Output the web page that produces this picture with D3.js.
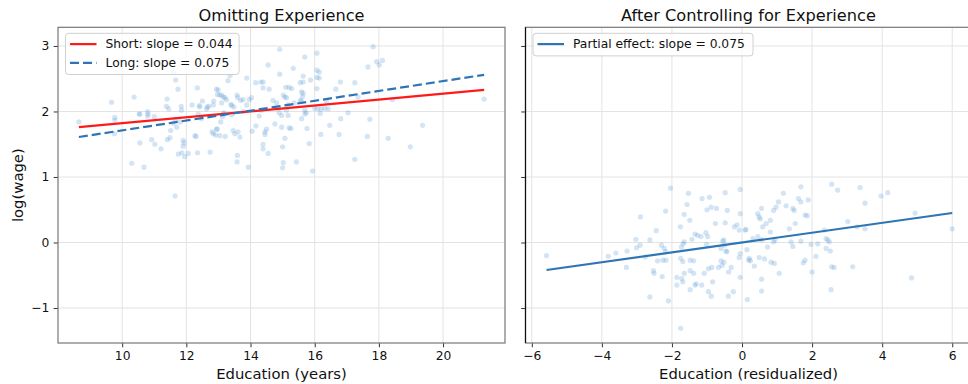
<!DOCTYPE html>
<html>
<head>
<meta charset="utf-8">
<script src="https://cdn.jsdelivr.net/npm/d3@7"></script>
<style>
  body { margin: 0; background: #fff; }
  svg text { font-family: "DejaVu Sans", sans-serif; fill: #111; }
</style>
</head>
<body>
<div id="chart"></div>
<script>
// left panel: raw education vs log wage
const eduYears = [8.65,9.67,10.37,9.77,9.77,9.76,10.55,10.30,10.68,10.79,10.79,10.55,11.00,10.92,11.02,11.21,11.40,11.38,11.45,11.59,11.67,11.74,11.84,11.85,11.66,11.80,11.59,11.70,11.51,11.49,11.41,11.90,11.93,11.90,11.75,11.86,11.95,11.65,12.30,12.06,12.34,12.18,12.42,12.50,12.37,12.47,12.35,12.74,12.65,12.85,12.94,12.99,13.04,12.84,12.91,12.94,13.07,13.13,13.17,13.21,13.30,13.36,13.15,13.25,13.39,13.58,13.60,13.48,13.69,13.77,13.88,13.96,14.03,13.46,13.51,13.61,13.67,13.59,13.58,13.93,13.77,13.88,14.05,14.17,14.16,14.32,14.39,14.39,14.55,14.58,14.70,14.27,14.34,14.45,14.45,14.50,14.39,14.39,14.55,14.91,14.91,15.02,15.07,15.12,15.10,15.33,15.20,15.28,14.89,14.97,15.12,15.17,14.76,14.97,15.20,15.07,15.00,15.02,15.00,15.43,15.69,15.64,15.55,15.64,15.59,15.64,15.55,15.62,15.87,15.59,15.74,15.76,15.83,15.93,16.07,16.07,16.14,16.07,16.14,16.07,16.00,16.10,16.20,16.17,16.31,16.42,16.37,16.47,16.19,16.66,16.80,16.81,16.76,17.04,17.25,17.25,17.35,17.66,17.72,17.64,17.82,17.93,18.01,18.11,18.42,18.29,18.98,19.36,21.28,12.27,12.40,12.63,10.53,10.81,12.97,13.10,13.20,12.70,12.84,13.10,13.41,13.15,13.41,12.80,12.96,13.04,14.81,14.88,15.17,15.36,15.59,15.69,15.69,15.26];
const logWage = [1.84,2.14,2.22,1.91,1.87,1.66,1.52,1.21,1.15,2.00,1.93,1.96,1.92,1.57,1.50,1.43,2.19,2.08,2.04,2.60,2.48,2.34,2.08,2.02,1.88,1.84,1.82,1.76,1.71,1.60,1.57,1.56,1.52,1.47,1.35,1.37,1.31,0.71,1.62,1.36,2.36,2.10,2.07,2.16,1.96,1.89,1.37,1.38,2.07,2.16,2.34,2.33,2.25,1.66,1.64,1.73,1.84,1.92,1.98,1.62,2.47,2.55,2.22,2.18,2.11,2.25,2.21,2.07,2.17,2.18,2.51,2.18,2.21,1.71,1.66,1.69,1.61,1.33,1.23,1.15,2.00,2.10,1.70,1.78,2.44,2.45,2.45,2.36,2.71,2.34,2.17,1.93,2.02,1.69,1.65,1.73,1.50,1.43,1.36,2.95,2.57,2.25,2.22,2.21,2.37,2.66,2.37,2.35,1.98,1.94,2.02,1.94,1.81,1.76,1.75,1.59,1.46,1.22,1.14,1.23,2.83,2.54,2.44,2.45,2.30,2.28,2.17,2.23,2.48,1.89,1.98,1.74,1.51,1.09,2.89,2.63,2.60,2.52,2.51,2.35,2.05,2.04,2.04,1.97,2.05,2.04,2.15,1.79,1.65,2.34,2.45,1.89,1.65,1.98,2.44,1.27,2.22,2.68,1.88,1.62,2.99,2.76,2.71,2.78,2.18,1.59,1.46,1.79,2.19,1.63,2.09,2.04,1.96,1.96,2.26,2.25,2.21,2.08,2.10,2.13,2.09,1.96,1.95,1.69,1.73,1.63,2.13,2.05,2.10,2.13,2.16,2.02,1.96,1.74];

// right panel: residualized education vs residualized log wage
const eduResid = [-5.58,-3.82,-3.60,-3.28,-3.30,-3.03,-2.91,-3.01,-2.90,-2.63,-2.76,-2.45,-2.18,-2.04,-2.30,-2.22,-2.18,-2.41,-2.26,-2.17,-2.53,-2.51,-2.28,-2.63,-2.10,-1.75,-1.86,-1.86,-1.72,-1.69,-1.65,-1.69,-1.75,-1.73,-1.65,-1.68,-1.76,-1.65,-1.57,-1.53,-1.48,-1.38,-1.48,-1.38,-1.31,-1.34,-1.48,-1.15,-1.49,-1.34,-1.27,-1.43,-1.17,-1.14,-0.93,-1.00,-0.88,-1.03,-0.98,-1.01,-0.96,-0.86,-1.08,-0.84,-0.96,-0.88,-0.76,-0.73,-0.60,-0.52,-0.67,-0.57,-0.46,-0.43,-0.60,-0.50,-0.52,-0.55,-0.48,-0.42,-0.48,-0.38,-0.31,-0.39,-0.25,-0.22,-0.14,-0.05,-0.05,-0.08,-0.05,-0.08,-0.05,0.09,0.11,0.14,0.21,0.19,0.24,0.35,0.15,0.31,0.45,0.49,0.52,0.56,0.59,0.69,0.49,0.64,0.56,0.56,0.45,0.56,0.73,0.81,0.81,0.90,0.94,0.83,0.92,1.06,0.97,1.04,0.90,1.18,1.26,1.40,1.45,1.35,1.45,1.49,1.52,1.61,1.68,1.68,1.80,1.89,1.86,1.68,1.75,1.80,2.00,1.97,2.11,2.16,2.35,2.40,2.45,2.49,2.40,2.52,2.56,2.63,2.54,2.56,2.73,3.16,3.02,3.28,3.37,3.51,3.51,3.97,4.16,4.94,4.84,6.00];
const wageResid = [-0.20,-0.21,-0.16,-0.13,-0.38,0.05,-0.04,-0.08,0.39,0.04,-0.22,0.18,0.48,0.83,-0.04,-0.09,-0.14,-0.28,-0.27,-0.27,-0.43,-0.47,-0.52,-0.83,-0.89,-1.31,-0.53,-0.65,-0.55,-0.60,-0.47,-0.29,-0.24,-0.07,0.01,-0.02,0.24,0.43,0.58,0.75,-0.27,-0.28,-0.43,-0.47,-0.63,-0.65,-0.72,-0.65,0.34,0.13,0.11,0.05,0.09,0.67,0.69,0.50,0.54,0.15,0.09,-0.03,-0.40,-0.38,-0.47,-0.60,-0.75,-0.82,0.29,0.52,-0.28,-0.30,-0.38,-0.35,-0.13,-0.14,-0.09,-0.04,0.04,0.02,0.30,0.49,0.76,-0.45,-0.38,-0.82,-0.75,0.24,0.27,0.44,0.81,0.19,-0.17,-0.23,-0.53,0.19,0.20,-0.11,-0.24,-0.27,-0.28,-0.36,-0.87,0.06,0.44,0.39,0.36,0.52,0.24,0.29,-0.23,-0.25,-0.56,-0.74,0.09,0.04,-0.07,0.34,0.16,0.01,0.04,-0.30,-0.32,-0.47,0.54,0.62,0.49,0.75,0.56,0.01,-0.06,0.21,0.52,0.49,0.29,0.67,0.62,0.85,0.42,0.65,0.41,0.02,-0.31,-0.27,-0.45,-0.03,-0.21,-0.02,0.19,0.06,0.04,0.01,-0.09,-0.13,-0.37,-0.38,-0.72,0.89,0.80,-0.37,0.32,0.24,0.84,0.60,0.21,0.71,0.76,0.45,-0.54,0.21];

// fitted lines (endpoints)
const shortFitX = [8.65, 21.28], shortFitY = [1.76, 2.33];
const longFitX = [8.65, 21.28], longFitY = [1.61, 2.56];
const partialFitX = [-5.58, 6.0], partialFitY = [-0.42, 0.45];

const leftXTicks = [10, 12, 14, 16, 18, 20];
const rightXTicks = [-6, -4, -2, 0, 2, 4, 6];
const yTicks = [-1, 0, 1, 2, 3];

const width = 968, height = 384;
const plotTop = 27.3, plotBottom = 343;

const svg = d3.select("#chart").append("svg")
  .attr("width", width).attr("height", height);

// shared y
const y = d3.scaleLinear().domain([-1.534, 3.285]).range([plotBottom, plotTop]);

function makeXY(xs, ys) {
  return xs.map((v, i) => ({ x: v, y: ys[i] }));
}

function drawPanel(opt) {
  const x = d3.scaleLinear().domain(opt.xDomain).range([opt.left, opt.right]);
  const g = svg.append("g");

  const clipId = "clip" + opt.id;
  svg.append("clipPath").attr("id", clipId).append("rect")
    .attr("x", opt.left).attr("y", plotTop)
    .attr("width", opt.right - opt.left).attr("height", plotBottom - plotTop);

  // grid
  g.append("g").selectAll("line").data(opt.xTicks).join("line")
    .attr("x1", d => x(d)).attr("x2", d => x(d))
    .attr("y1", plotTop).attr("y2", plotBottom)
    .attr("stroke", "#e3e3e3").attr("stroke-width", 1);
  g.append("g").selectAll("line").data(yTicks).join("line")
    .attr("x1", opt.left).attr("x2", opt.right)
    .attr("y1", d => y(d)).attr("y2", d => y(d))
    .attr("stroke", "#e3e3e3").attr("stroke-width", 1);

  // points
  const plot = g.append("g").attr("clip-path", `url(#${clipId})`);
  plot.selectAll("circle").data(opt.points).join("circle")
    .attr("cx", d => x(d.x)).attr("cy", d => y(d.y))
    .attr("r", 2.6)
    .attr("fill", "#5b9bd5").attr("fill-opacity", 0.27);

  // fit lines
  const line = d3.line().x(d => x(d.x)).y(d => y(d.y));
  opt.lines.forEach(l => {
    plot.append("path").datum(l.pts)
      .attr("d", line)
      .attr("fill", "none")
      .attr("stroke", l.color)
      .attr("stroke-width", 2.2)
      .attr("stroke-dasharray", l.dash || null);
  });

  // axes
  const xAxis = d3.axisBottom(x).tickValues(opt.xTicks).tickSize(4.3).tickPadding(4)
    .tickFormat(d3.format("d"));
  const xg = g.append("g").attr("transform", `translate(0,${plotBottom})`).call(xAxis);
  xg.select(".domain").remove();
  xg.selectAll("line").attr("stroke", "#333");
  xg.selectAll("text").attr("font-size", "12.3px").attr("fill", "#111")
    .attr("font-family", "DejaVu Sans");

  const yAxis = d3.axisLeft(y).tickValues(yTicks).tickSize(4.3).tickPadding(4.3)
    .tickFormat(opt.yLabels ? d3.format("d") : () => "");
  const yg = g.append("g").attr("transform", `translate(${opt.left},0)`).call(yAxis);
  yg.select(".domain").remove();
  yg.selectAll("line").attr("stroke", "#333");
  yg.selectAll("text").attr("font-size", "12.3px").attr("fill", "#111")
    .attr("font-family", "DejaVu Sans");

  // spines
  g.append("rect")
    .attr("x", opt.left).attr("y", plotTop)
    .attr("width", opt.right - opt.left).attr("height", plotBottom - plotTop)
    .attr("fill", "none").attr("stroke", "#777").attr("stroke-width", 1.2);
  if (opt.darkLeft) {
    g.append("line").attr("x1", opt.left).attr("x2", opt.left)
      .attr("y1", plotTop).attr("y2", plotBottom)
      .attr("stroke", "#111").attr("stroke-width", 1.2);
  }

  // title + x label
  svg.append("text").attr("x", (opt.left + opt.right) / 2).attr("y", 21)
    .attr("text-anchor", "middle").attr("font-size", "16.2px").text(opt.title);
  svg.append("text").attr("x", (opt.left + opt.right) / 2).attr("y", 379)
    .attr("text-anchor", "middle").attr("font-size", "14.8px").text(opt.xLabel);

  // legend
  const lg = svg.append("g").attr("transform", `translate(${opt.left + 7.5},${plotTop + 6})`);
  lg.append("rect").attr("width", opt.legendW).attr("height", 18.6 * opt.lines.length + 4)
    .attr("rx", 3).attr("fill", "#fff").attr("fill-opacity", 0.8)
    .attr("stroke", "#d0d0d0").attr("stroke-width", 1);
  opt.lines.forEach((l, i) => {
    const cy = 10.8 + i * 18.7;
    lg.append("line").attr("x1", 4.5).attr("x2", 31).attr("y1", cy).attr("y2", cy)
      .attr("stroke", l.color).attr("stroke-width", 2.2)
      .attr("stroke-dasharray", l.dash || null);
    lg.append("text").attr("x", 40).attr("y", cy + 4.4)
      .attr("font-size", "12.3px").text(l.label);
  });
}

drawPanel({
  id: "L", left: 58, right: 505,
  xDomain: [8.0, 21.93], xTicks: leftXTicks, yLabels: true,
  title: "Omitting Experience", xLabel: "Education (years)",
  points: makeXY(eduYears, logWage), legendW: 173.6,
  lines: [
    { pts: makeXY(shortFitX, shortFitY), color: "#ff1a1a", label: "Short: slope = 0.044" },
    { pts: makeXY(longFitX, longFitY), color: "#2f75b5", dash: "9,4", label: "Long: slope = 0.075" }
  ]
});

drawPanel({
  id: "R", left: 525.5, right: 971.5, darkLeft: true,
  xDomain: [-6.18, 6.55], xTicks: rightXTicks, yLabels: false,
  title: "After Controlling for Experience", xLabel: "Education (residualized)",
  points: makeXY(eduResid, wageResid), legendW: 220,
  lines: [
    { pts: makeXY(partialFitX, partialFitY), color: "#2f75b5", label: "Partial effect: slope = 0.075" }
  ]
});

// shared y label
svg.append("text")
  .attr("transform", `translate(23,${(plotTop + plotBottom) / 2}) rotate(-90)`)
  .attr("text-anchor", "middle").attr("font-size", "14.8px").text("log(wage)");
</script>
</body>
</html>
